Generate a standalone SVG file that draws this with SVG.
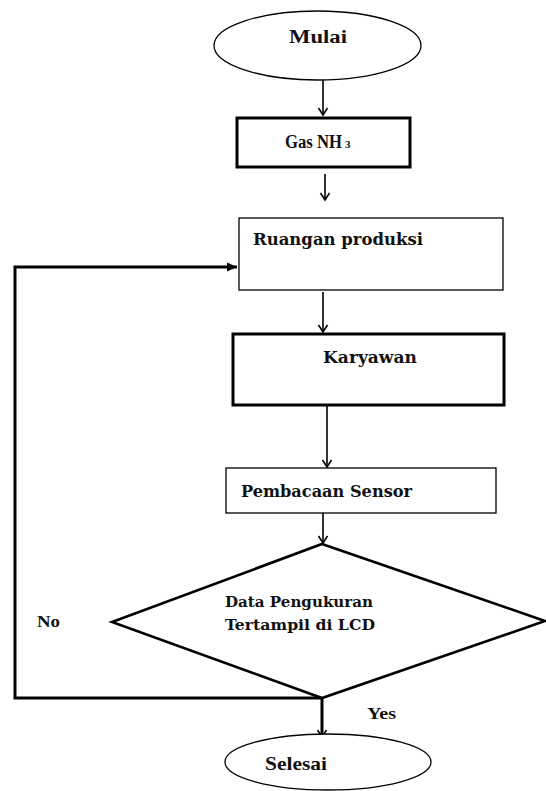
<svg xmlns="http://www.w3.org/2000/svg" width="546" height="791" viewBox="0 0 546 791">
<defs>
<style>
.thin{fill:#fff;stroke:#000;stroke-width:1.3}
.thick{fill:#fff;stroke:#000;stroke-width:3}
.conn{fill:none;stroke:#000;stroke-width:1.6}
.conn-thick{fill:none;stroke:#000;stroke-width:3}
.t1{font-family:"Liberation Serif","Times New Roman",serif;font-weight:bold;fill:#111}
.t2{font-family:"DejaVu Serif","Liberation Serif",serif;font-weight:bold;fill:#111}
</style>
<marker id="open" markerUnits="userSpaceOnUse" markerWidth="12" markerHeight="12" viewBox="0 0 12 12" refX="10" refY="6" orient="auto">
<path d="M3,1.5 L10,6 L3,10.5" fill="none" stroke="#000" stroke-width="1.6"/>
</marker>
<marker id="filled" markerUnits="userSpaceOnUse" markerWidth="12" markerHeight="12" viewBox="0 0 12 12" refX="11" refY="6" orient="auto">
<path d="M1,1.5 L11,6 L1,10.5 z" fill="#000"/>
</marker>
</defs>
<rect width="546" height="791" fill="#fff"/>
<g id="connectors">
<line class="conn" x1="323" y1="80" x2="323" y2="115" marker-end="url(#open)"/>
<line class="conn" x1="325" y1="174" x2="325" y2="200" marker-end="url(#open)"/>
<line class="conn" x1="323" y1="292" x2="323" y2="332" marker-end="url(#open)"/>
<line class="conn" x1="327" y1="406" x2="327" y2="467" marker-end="url(#open)"/>
<line class="conn" x1="323" y1="503" x2="323" y2="543" marker-end="url(#open)"/>
<path class="conn-thick" d="M322,698 L15,698 L15,267 L237,267" marker-end="url(#filled)"/>
<line class="conn-thick" x1="322" y1="698" x2="322" y2="737" marker-end="url(#open)"/>
</g>
<g id="mulai">
<ellipse class="thin" cx="317.5" cy="45.5" rx="103.5" ry="34.5"/>
<text class="t1" x="289" y="43" font-size="18" textLength="58" lengthAdjust="spacingAndGlyphs">Mulai</text>
</g>
<g id="gas">
<rect class="thick" x="237" y="118" width="173" height="49"/>
<text class="t1" x="285" y="148" font-size="18" textLength="57" lengthAdjust="spacingAndGlyphs">Gas NH</text>
<text class="t1" x="345" y="148" font-size="11">3</text>
</g>
<g id="ruangan">
<rect class="thin" x="239" y="218" width="264" height="72"/>
<text class="t2" x="253" y="245" font-size="16" textLength="170" lengthAdjust="spacingAndGlyphs">Ruangan produksi</text>
</g>
<g id="karyawan">
<rect class="thick" x="233" y="334" width="271" height="71"/>
<text class="t2" x="323" y="363" font-size="16" textLength="94" lengthAdjust="spacingAndGlyphs">Karyawan</text>
</g>
<g id="pembacaan">
<rect class="thin" x="226" y="468" width="270" height="45"/>
<text class="t2" x="241" y="497" font-size="16" textLength="171" lengthAdjust="spacingAndGlyphs">Pembacaan Sensor</text>
</g>
<g id="keputusan">
<polygon points="322,544 545,621 322,698 112,622" fill="#fff" stroke="#000" stroke-width="2.6" stroke-linejoin="miter"/>
<text class="t2" x="225" y="607" font-size="14.5" textLength="148" lengthAdjust="spacingAndGlyphs">Data Pengukuran</text>
<text class="t2" x="225" y="630" font-size="14.5" textLength="150" lengthAdjust="spacingAndGlyphs">Tertampil di LCD</text>
</g>
<g id="label-no">
<text class="t1" x="37" y="627" font-size="16" textLength="23" lengthAdjust="spacingAndGlyphs">No</text>
</g>
<g id="label-yes">
<text class="t1" x="367" y="719" font-size="16" textLength="29" lengthAdjust="spacingAndGlyphs">Yes</text>
</g>
<g id="selesai">
<ellipse class="thin" cx="328" cy="762" rx="103" ry="28"/>
<text class="t1" x="265" y="770" font-size="19" textLength="62" lengthAdjust="spacingAndGlyphs">Selesai</text>
</g>
</svg>
